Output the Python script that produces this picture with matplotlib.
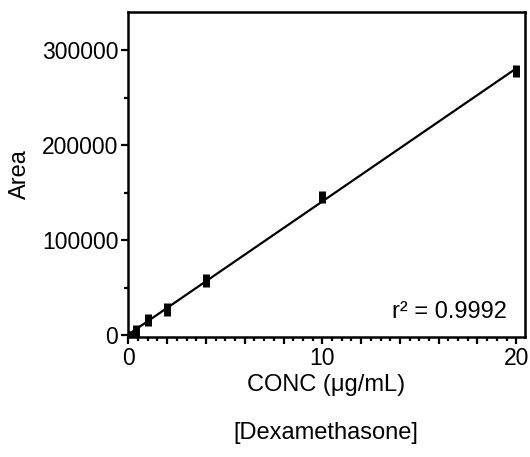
import matplotlib.pyplot as plt
from matplotlib.ticker import MultipleLocator, FuncFormatter
import numpy as np

plt.rcParams['font.family'] = ['Liberation Sans', 'DejaVu Sans']

# Kalibrierdaten
conc = [0.1, 0.4, 1, 2, 4, 10, 20]
area = [1000, 4500, 15800, 27000, 57500, 145600, 278200]
area_err = [3500, 6000, 6500, 6500, 6500, 6500, 6500]
r2_text = "r\u00b2 = 0.9992"

# lineare Regression
k, d = np.polyfit(conc, area, 1)
xfit = np.array([0, max(conc)])

fig = plt.figure(figsize=(5.30, 4.57), dpi=100)
ax = fig.add_axes([0.2415, 0.2626, 0.7491, 0.7111])

ax.plot(xfit, k * xfit + d, color="black", linewidth=1.6)
ax.errorbar(conc, area, yerr=area_err, fmt="none", ecolor="black",
            elinewidth=5, capsize=0)

ax.set_xlim(-0.02, 20.45)
ax.set_ylim(-2000, 340000)

# Ticks
ax.xaxis.set_major_locator(MultipleLocator(2))
ax.xaxis.set_major_formatter(FuncFormatter(lambda v, p: f"{v:.0f}" if round(v) % 10 == 0 else ""))
ax.xaxis.set_minor_locator(MultipleLocator(0.5))
ax.yaxis.set_major_locator(MultipleLocator(100000))
ax.yaxis.set_minor_locator(MultipleLocator(50000))
ax.tick_params(which="major", length=5, width=1.6, labelsize=16.5, pad=2)
ax.tick_params(which="minor", length=3, width=1.6)

for s in ax.spines.values():
    s.set_linewidth(1.8)

ax.set_xlabel("CONC (\u03bcg/mL)", fontsize=17, labelpad=3)
ax.set_ylabel("Area", fontsize=17, labelpad=8)
ax.text(0.955, 0.077, r2_text, transform=ax.transAxes, ha="right", va="center", fontsize=17)

fig.text(326 / 530, 1 - 433 / 457, "[Dexamethasone]", ha="center", va="center", fontsize=17)

plt.savefig("out.png", dpi=100)
